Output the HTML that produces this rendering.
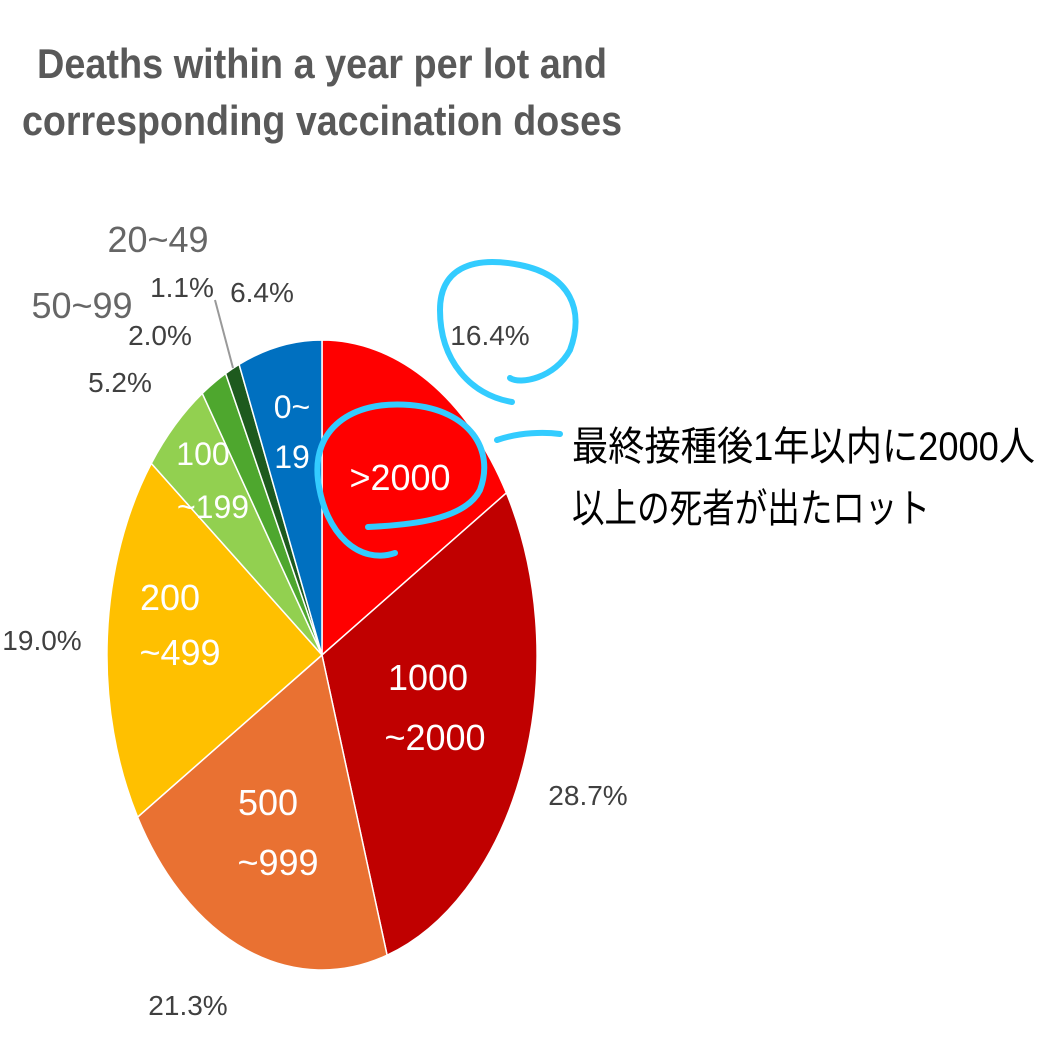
<!DOCTYPE html>
<html><head><meta charset="utf-8"><style>
html,body{margin:0;padding:0;background:#fff;width:1057px;height:1057px;overflow:hidden}
</style></head><body>
<svg width="1057" height="1057" viewBox="0 0 1057 1057" xmlns="http://www.w3.org/2000/svg">
<g font-family="Liberation Sans, sans-serif" font-weight="bold" fill="#595959" font-size="42">
<text x="37" y="78" textLength="570" lengthAdjust="spacingAndGlyphs">Deaths within a year per lot and</text>
<text x="22" y="135" textLength="600" lengthAdjust="spacingAndGlyphs">corresponding vaccination doses</text>
</g>
<g stroke="#fff" stroke-width="1.5">
<path d="M322,655 L322,340 A215,315 0 0 1 506.4,492.9 Z" fill="#ff0000"/>
<path d="M322,655 L506.4,492.9 A215,315 0 0 1 387.1,955.2 Z" fill="#c00000"/>
<path d="M322,655 L387.1,955.2 A215,315 0 0 1 137.6,817.1 Z" fill="#e97132"/>
<path d="M322,655 L137.6,817.1 A215,315 0 0 1 151.3,463.4 Z" fill="#ffc000"/>
<path d="M322,655 L151.3,463.4 A215,315 0 0 1 202.3,393.4 Z" fill="#92d050"/>
<path d="M322,655 L202.3,393.4 A215,315 0 0 1 225.6,373.5 Z" fill="#4ea72e"/>
<path d="M322,655 L225.6,373.5 A215,315 0 0 1 239.1,364.4 Z" fill="#1e5a1e"/>
<path d="M322,655 L239.1,364.4 A215,315 0 0 1 322,340 Z" fill="#0070c0"/>
</g>
<line x1="233" y1="368" x2="215" y2="300" stroke="#999" stroke-width="2"/>
<g font-family="Liberation Sans, sans-serif" fill="#fff" font-size="36" text-anchor="middle">
<text x="400" y="490">&gt;2000</text>
<text x="428" y="690">1000</text>
<text x="435" y="750">~2000</text>
<text x="268" y="815">500</text>
<text x="278" y="875">~999</text>
<text x="170" y="610">200</text>
<text x="180" y="665">~499</text>
<text x="203" y="465" font-size="32">100</text>
<text x="213" y="518" font-size="32">~199</text>
<text x="292" y="418" font-size="32">0~</text>
<text x="292" y="468" font-size="32">19</text>
</g>
<g font-family="Liberation Sans, sans-serif" fill="#404040" font-size="28" text-anchor="middle">
<text x="490" y="345">16.4%</text>
<text x="588" y="805">28.7%</text>
<text x="188" y="1015">21.3%</text>
<text x="42" y="650">19.0%</text>
<text x="120" y="392">5.2%</text>
<text x="160" y="345">2.0%</text>
<text x="182" y="297">1.1%</text>
<text x="262" y="302">6.4%</text>
</g>
<g font-family="Liberation Sans, sans-serif" fill="#666" font-size="36" text-anchor="middle">
<text x="158" y="252">20~49</text>
<text x="82" y="318">50~99</text>
</g>
<g fill="none" stroke="#33ccff" stroke-width="6" stroke-linecap="round">
<path d="M512,402 C470,395 440,360 440,310 C440,270 470,255 520,265 C570,275 585,310 570,350 C555,378 520,385 510,378"/>
<path d="M395,553 C360,565 325,535 318,480 C312,430 350,400 410,405 C470,410 495,450 480,490 C465,520 410,525 368,527"/>
<path d="M497,440 C520,432 545,432 560,434"/>
</g>
<g font-family="Liberation Sans, Noto Sans CJK JP, sans-serif" fill="#000" font-size="40">
<text x="572" y="460" textLength="463" lengthAdjust="spacingAndGlyphs">最終接種後1年以内に2000人</text>
<text x="572" y="522" textLength="358" lengthAdjust="spacingAndGlyphs">以上の死者が出たロット</text>
</g>
</svg>
</body></html>
